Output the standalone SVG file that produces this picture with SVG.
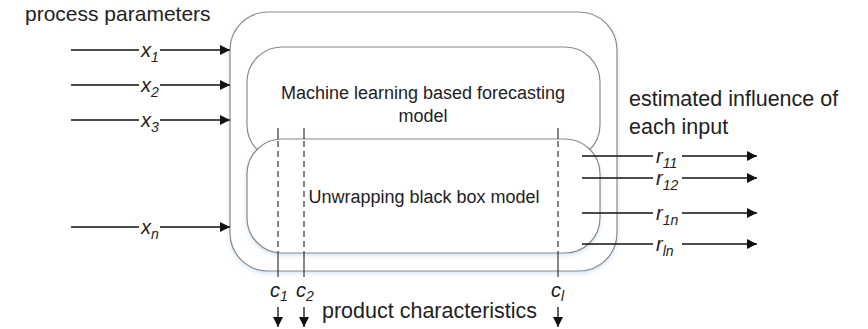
<svg xmlns="http://www.w3.org/2000/svg" width="868" height="329" viewBox="0 0 868 329">
<defs>
<style>
.t{font-family:"Liberation Sans",Arial,sans-serif;fill:#222}
.v{font-family:"Liberation Sans",Arial,sans-serif;font-style:italic;fill:#222;font-size:20px}
.s{font-size:14px}
.box{fill:#fff;stroke:#8a8a8a;stroke-width:1.2}
.arr{stroke:#111;stroke-width:1.3;fill:none;marker-end:url(#ah)}
.gap{fill:#fff}
.ds{stroke:#444;stroke-width:1.3;fill:none}
.dd{stroke-dasharray:6 4}
</style>
<marker id="ah" viewBox="0 0 10 10" refX="10" refY="5" markerWidth="10" markerHeight="10" markerUnits="userSpaceOnUse" orient="auto">
<path d="M0,0 L10,5 L0,10 Z" fill="#111"/>
</marker>
<filter id="sh" x="-10%" y="-10%" width="120%" height="130%">
<feDropShadow dx="0" dy="2" stdDeviation="2" flood-color="#9cc3e6" flood-opacity="0.45"/>
</filter>
</defs>
<rect width="868" height="329" fill="#fff"/>

<g id="system">
<rect class="box" x="230" y="12" width="387" height="259" rx="38" ry="38" filter="url(#sh)"/>
</g>
<g id="ml-model">
<rect class="box" x="247" y="47" width="353" height="113" rx="35" ry="35"/>
<text class="t" font-size="18" x="423" y="99" text-anchor="middle">Machine learning based forecasting</text>
<text class="t" font-size="18" x="423" y="122" text-anchor="middle">model</text>
</g>
<g id="unwrap-model">
<rect class="box" x="247" y="139" width="353" height="114" rx="35" ry="35" filter="url(#sh)"/>
<text class="t" font-size="18" x="424" y="203" text-anchor="middle">Unwrapping black box model</text>
</g>

<g id="labels">
<text class="t" font-size="21" x="25" y="21">process parameters</text>
<text class="t" font-size="21.5" x="629" y="106">estimated influence of</text>
<text class="t" font-size="21.5" x="629" y="134">each input</text>
<text class="t" font-size="21.5" x="322" y="318">product characteristics</text>
</g>

<g id="connectors">
<!-- inputs -->
<line class="arr" x1="71" y1="50" x2="230" y2="50"/>
<line class="arr" x1="71" y1="85" x2="230" y2="85"/>
<line class="arr" x1="71" y1="120" x2="230" y2="120"/>
<line class="arr" x1="71" y1="227" x2="230" y2="227"/>
<rect class="gap" x="139" y="43" width="21" height="14"/>
<rect class="gap" x="139" y="78" width="21" height="14"/>
<rect class="gap" x="139" y="113" width="21" height="14"/>
<rect class="gap" x="139" y="220" width="21" height="14"/>
<text class="v" x="141" y="57">x<tspan class="s" dy="5">1</tspan></text>
<text class="v" x="141" y="92">x<tspan class="s" dy="5">2</tspan></text>
<text class="v" x="141" y="127">x<tspan class="s" dy="5">3</tspan></text>
<text class="v" x="141" y="234">x<tspan class="s" dy="5">n</tspan></text>

<!-- outputs -->
<line class="arr" x1="582" y1="156" x2="757" y2="156"/>
<line class="arr" x1="582" y1="178" x2="757" y2="178"/>
<line class="arr" x1="582" y1="213" x2="757" y2="213"/>
<line class="arr" x1="582" y1="244" x2="757" y2="244"/>
<rect class="gap" x="653" y="149" width="29" height="14"/>
<rect class="gap" x="653" y="171" width="29" height="14"/>
<rect class="gap" x="653" y="206" width="29" height="14"/>
<rect class="gap" x="653" y="237" width="29" height="14"/>
<text class="v" x="656" y="163">r<tspan class="s" dy="5">11</tspan></text>
<text class="v" x="656" y="185">r<tspan class="s" dy="5">12</tspan></text>
<text class="v" x="656" y="220">r<tspan class="s" dy="5">1n</tspan></text>
<text class="v" x="656" y="251">r<tspan class="s" dy="5">ln</tspan></text>

<!-- product characteristics -->
<line class="ds" x1="278" y1="128" x2="278" y2="139"/>
<line class="ds dd" x1="278" y1="141" x2="278" y2="253"/>
<line class="ds" x1="278" y1="253" x2="278" y2="277"/>
<line class="ds" x1="304" y1="128" x2="304" y2="139"/>
<line class="ds dd" x1="304" y1="141" x2="304" y2="253"/>
<line class="ds" x1="304" y1="253" x2="304" y2="277"/>
<line class="ds" x1="558" y1="128" x2="558" y2="139"/>
<line class="ds dd" x1="558" y1="141" x2="558" y2="253"/>
<line class="ds" x1="558" y1="253" x2="558" y2="277"/>
<text class="v" x="270" y="297">c<tspan class="s" dy="4">1</tspan></text>
<text class="v" x="296" y="297">c<tspan class="s" dy="4">2</tspan></text>
<text class="v" x="551" y="297">c<tspan class="s" dy="4">l</tspan></text>
<line class="arr" x1="278" y1="307" x2="278" y2="327"/>
<line class="arr" x1="304" y1="307" x2="304" y2="327"/>
<line class="arr" x1="558" y1="307" x2="558" y2="327"/>
</g>
</svg>
